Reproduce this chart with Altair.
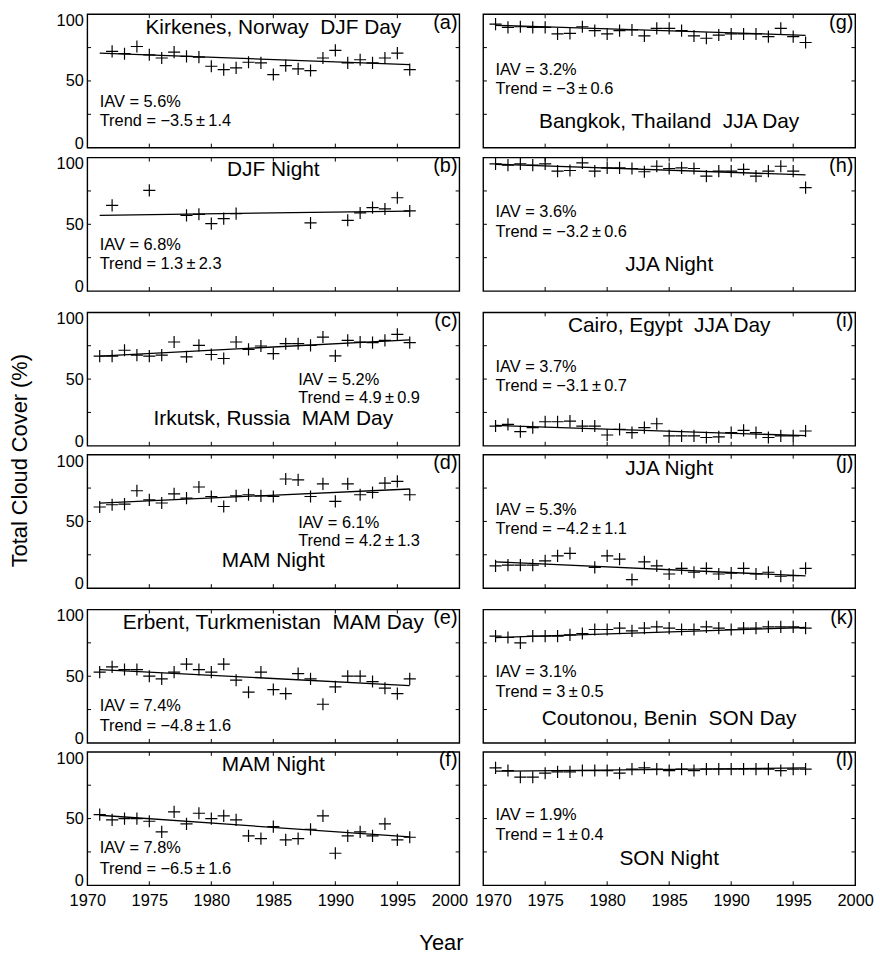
import altair as alt
import pandas as pd

# ---------------------------------------------------------------------------
# Annual mean total cloud cover (%) at six stations, 1971-1996.
# None marks a year with no value.
# ---------------------------------------------------------------------------
YEARS = list(range(1971, 1997))

kirkenes_djf_day = [None, 72.1, 70.4, 75.8, 69.6, 67.2, 71.6, 68.4, 67.9, 61.0,
                    58.5, 59.8, 64.0, 63.5, 54.8, 61.5, 59.0, 57.8, 67.2, 72.9,
                    63.5, 65.9, 63.5, 67.2, 70.9, 58.5]
kirkenes_djf_night = [None, 64.2, None, None, 75.4, None, None, 56.7, 57.5, 50.5,
                      54.3, 58.0, None, None, None, None, None, 51.0, None, None,
                      53.0, 58.5, 62.5, 61.5, 69.9, 60.0]
irkutsk_mam_day = [67.2, 67.2, 71.6, 67.9, 67.2, 67.9, 77.8, 66.7, 75.3, 68.4,
                   65.4, 77.8, 72.3, 74.8, 69.1, 76.5, 76.5, 75.3, 81.5, 67.4,
                   79.0, 77.8, 77.3, 79.0, 83.5, 77.3]
irkutsk_mam_night = [60.8, 62.5, 63.0, 73.0, 66.2, 63.8, 70.7, 67.5, 75.8, 68.7,
                     61.2, 69.2, 70.0, 69.2, 68.7, 81.8, 81.2, 68.7, 78.2, 65.0,
                     78.2, 70.0, 71.7, 78.7, 80.0, 70.0]
erbent_mam_day = [53, 57, 55, 55, 50, 48, 53, 59, 55, 53,
                  59, 47, 38, 53, 40, 37, 52, 48, 29, 42,
                  50, 50, 46, 41, 37, 48]
erbent_mam_night = [53, 49, 50, 50, 48, 40, 55, 46, 54, 50,
                    52, 49, 37, 35, 44, 34, 35, 42, 52, 24,
                    37, 40, 37, 46, 34, 36]
bangkok_jja_day = [92.6, 90.1, 90.6, 90.1, 90.1, 85.2, 85.7, 90.6, 87.7, 85.2,
                   87.7, 88.2, 83.7, 89.4, 89.4, 87.7, 83.7, 82.0, 84.4, 85.2,
                   85.2, 85.2, 83.2, 89.4, 83.2, 78.8]
bangkok_jja_night = [95.3, 94.3, 95.3, 94.3, 95.3, 89.8, 90.3, 96.0, 89.8, 92.3,
                     92.3, 91.8, 89.4, 93.5, 91.8, 92.3, 91.8, 86.1, 89.8, 89.8,
                     91.1, 86.1, 89.8, 93.5, 89.8, 77.5]
cairo_jja_day = [14.8, 16.0, 10.6, 13.6, 18.0, 18.0, 18.5, 14.8, 14.8, 8.1,
                 12.3, 9.9, 13.6, 16.5, 7.4, 7.4, 7.4, 6.2, 6.7, 9.9,
                 11.6, 9.9, 6.2, 7.4, 7.4, 11.1]
cairo_jja_night = [16.7, 17.3, 17.3, 17.3, 20.4, 24.2, 26.1, None, 15.6, 24.2,
                   21.7, 6.4, 19.7, 16.7, 10.6, 14.8, 11.9, 14.8, 10.6, 11.3,
                   14.8, 10.6, 11.9, 8.9, 9.4, 14.8]
coutonou_son_day = [80, 79, 75, 80, 80, 80, 81, 82, 85, 85,
                    86, 84, 86, 87, 86, 85, 85, 87, 86, 85,
                    86, 86, 87, 87, 87, 86]
coutonou_son_night = [88, 86, 81, 81, 84, 85, 85, 86, 86, 86,
                      84, 87, 88, 87, 86, 87, 86, 87, 87, 87,
                      87, 87, 87, 86, 87, 87]

SERIES = [kirkenes_djf_day, kirkenes_djf_night, irkutsk_mam_day, irkutsk_mam_night,
          erbent_mam_day, erbent_mam_night, bangkok_jja_day, bangkok_jja_night,
          cairo_jja_day, cairo_jja_night, coutonou_son_day, coutonou_son_night]

PANEL_TITLES = ["Kirkenes, Norway  DJF Day", "DJF Night",
                "Irkutsk, Russia  MAM Day", "MAM Night",
                "Erbent, Turkmenistan  MAM Day", "MAM Night",
                "Bangkok, Thailand  JJA Day", "JJA Night",
                "Cairo, Egypt  JJA Day", "JJA Night",
                "Coutonou, Benin  SON Day", "SON Night"]
LETTERS = list("abcdefghijkl")

# interannual variability (%), linear trend (% per decade) and its uncertainty
iav = [5.6, 6.8, 5.2, 6.1, 7.4, 7.8, 3.2, 3.6, 3.7, 5.3, 3.1, 1.9]
trend = [-3.5, 1.3, 4.9, 4.2, -4.8, -6.5, -3, -3.2, -3.1, -4.2, 3, 1]
trend_err = [1.4, 2.3, 0.9, 1.3, 1.6, 1.6, 0.6, 0.6, 0.7, 1.1, 0.5, 0.4]
# fitted trend-line value in the first year
trend_start = [70.9, 56.7, 67.2, 63.8, 55.0, 52.5, 91.7, 95.0, 15.3, 19.7, 79.0, 85.5]

# ---------------------------------------------------------------------------
# Layout / style
# ---------------------------------------------------------------------------
FONT = "Liberation Sans"
W, H = 375, 134.5
X_DOMAIN = [1970, 2000]
Y_DOMAIN = [0, 100]
X_LABELS = list(range(1970, 2001, 5))
Y_LABELS = [0, 50, 100]
X_TICKS = list(range(1975, 2000, 5))
Y_TICKS = [25, 50, 75]
TICK_LEN_X = 0.3     # years, for the ticks on the left/right frame
TICK_LEN_Y = 3.0     # percent, for the ticks on the top/bottom frame

# text placement per panel: (title y, stats x, IAV y, trend y)
TEXT_POS = {
    "a": (89.5, 1971, 34.4, 20.3),
    "b": (90.3, 1971, 34.8, 20.1),
    "c": (20.0, 1987, 49.6, 35.5),
    "d": (20.0, 1987, 49.0, 35.0),
    "e": (89.5, 1971, 28.0, 13.0),
    "f": (90.0, 1971, 28.0, 12.0),
    "g": (19.0, 1971, 58.5, 44.2),
    "h": (19.2, 1971, 58.9, 44.0),
    "i": (90.0, 1971, 59.3, 44.4),
    "j": (89.6, 1971, 58.7, 44.4),
    "k": (18.0, 1971, 53.0, 38.0),
    "l": (20.0, 1971, 53.0, 38.0),
}
TITLE_X = 1985
LETTER_POS = (1999.85, 93.5)

# y labels at 100 / 0 are pulled inside the frame by these many pixels
TOP_LABEL_SHIFT = 6.5
BOTTOM_LABEL_SHIFT = 4.5
# gaps between panels inside a station pair and between pairs; the part of
# the end labels that still sticks out of a panel counts towards these gaps
PAIR_SPACING = 0.5
GROUP_SPACING = 13.5

PLUS = "M-1,0L1,0M0,-1L0,1"
XS = alt.Scale(domain=X_DOMAIN, nice=False, zero=False)
YS = alt.Scale(domain=Y_DOMAIN, nice=False, zero=False)


def num(v):
    return f"{v:g}".replace("-", "\u2212")


def frame_ticks():
    rows = []
    for t in X_TICKS:
        rows.append({"year": t, "year2": t, "cover": Y_DOMAIN[0], "cover2": Y_DOMAIN[0] + TICK_LEN_Y})
        rows.append({"year": t, "year2": t, "cover": Y_DOMAIN[1], "cover2": Y_DOMAIN[1] - TICK_LEN_Y})
    for t in Y_TICKS:
        rows.append({"year": X_DOMAIN[0], "year2": X_DOMAIN[0] + TICK_LEN_X, "cover": t, "cover2": t})
        rows.append({"year": X_DOMAIN[1], "year2": X_DOMAIN[1] - TICK_LEN_X, "cover": t, "cover2": t})
    return pd.DataFrame(rows)


def x_axis(left_column):
    # nudge the year label at the inner edge so the two columns' labels part
    edge, shift = (X_DOMAIN[1], -10) if left_column else (X_DOMAIN[0], 10)
    return alt.Axis(values=X_LABELS, format="d", labelFlush=False, labelPadding=7,
                    labelOffset={"condition": {"test": f"datum.value == {edge}", "value": shift},
                                 "value": 0})


def y_axis():
    # end labels sit just inside the frame so stacked panels' labels part
    return alt.Axis(values=Y_LABELS, labelPadding=4,
                    labelOffset={"condition": [
                        {"test": f"datum.value == {Y_DOMAIN[1]}", "value": TOP_LABEL_SHIFT},
                        {"test": f"datum.value == {Y_DOMAIN[0]}", "value": -BOTTOM_LABEL_SHIFT},
                    ], "value": 0})


def panel(i, show_x, show_y):
    letter = LETTERS[i]
    title_y, stats_x, iav_y, trend_y = TEXT_POS[letter]

    pts = pd.DataFrame({"year": YEARS, "cover": SERIES[i]}).dropna()
    t0 = trend_start[i]
    span = YEARS[-1] - YEARS[0]
    fit = pd.DataFrame({"year": [YEARS[0], YEARS[-1]],
                        "cover": [t0, t0 + trend[i] / 10.0 * span]})

    X = alt.X("year:Q", scale=XS, axis=x_axis(i < 6) if show_x else None, title=None)
    Y = alt.Y("cover:Q", scale=YS, axis=y_axis() if show_y else None, title=None)

    points = alt.Chart(pts).mark_point(
        shape=PLUS, size=150, filled=False, color="black", strokeWidth=1.2, opacity=1
    ).encode(x=X, y=Y)

    line = alt.Chart(fit).mark_line(color="black", strokeWidth=1.3).encode(x=X, y=Y)

    ticks = alt.Chart(frame_ticks()).mark_rule(color="black", strokeWidth=1).encode(
        x=X, x2="year2", y=Y, y2="cover2")

    title_df = pd.DataFrame({"year": [TITLE_X], "cover": [title_y],
                             "label": [PANEL_TITLES[i].replace("  ", " \u00a0")]})
    title = alt.Chart(title_df).mark_text(
        font=FONT, fontSize=21, align="center", baseline="middle", color="black"
    ).encode(x=X, y=Y, text="label:N")

    stats_df = pd.DataFrame({
        "year": [stats_x, stats_x],
        "cover": [iav_y, trend_y],
        "label": [f"IAV = {num(iav[i])}%",
                  f"Trend = {num(trend[i])}\u2009\u00b1\u2009{num(trend_err[i])}"],
    })
    stats = alt.Chart(stats_df).mark_text(
        font=FONT, fontSize=16.5, align="left", baseline="middle", color="black"
    ).encode(x=X, y=Y, text="label:N")

    letter_df = pd.DataFrame({"year": [LETTER_POS[0]], "cover": [LETTER_POS[1]],
                              "label": [f"({letter})"]})
    tag = alt.Chart(letter_df).mark_text(
        font=FONT, fontSize=20, align="right", baseline="middle", color="black"
    ).encode(x=X, y=Y, text="label:N")

    return alt.layer(ticks, line, points, title, stats, tag).properties(width=W, height=H)


def row(k, bottom):
    # left column panels are 0-5, right column panels 6-11
    return alt.hconcat(panel(k, show_x=bottom, show_y=True),
                       panel(k + 6, show_x=bottom, show_y=False),
                       spacing=24, bounds="flush")


pairs = [alt.vconcat(row(2 * p, False), row(2 * p + 1, p == 2), spacing=PAIR_SPACING)
         for p in range(3)]

grid = alt.vconcat(*pairs, spacing=GROUP_SPACING).properties(
    title=alt.TitleParams(text="Total Cloud Cover (%)", orient="left", anchor="middle",
                          font=FONT, fontSize=22, fontWeight="normal", color="black",
                          offset=24)
)

chart = alt.vconcat(grid).properties(
    title=alt.TitleParams(text="Year", orient="bottom", anchor="middle",
                          font=FONT, fontSize=22, fontWeight="normal", color="black",
                          offset=24),
    padding={"left": 8, "top": 7.5, "right": 5, "bottom": 5},
    background="white",
).configure_view(
    stroke="black", strokeWidth=1.4
).configure_axis(
    labelFont=FONT, labelFontSize=16.5, labelColor="black",
    grid=False, domain=False, ticks=False
)

chart.save("out.html", embed_options={"renderer": "svg", "actions": False})
